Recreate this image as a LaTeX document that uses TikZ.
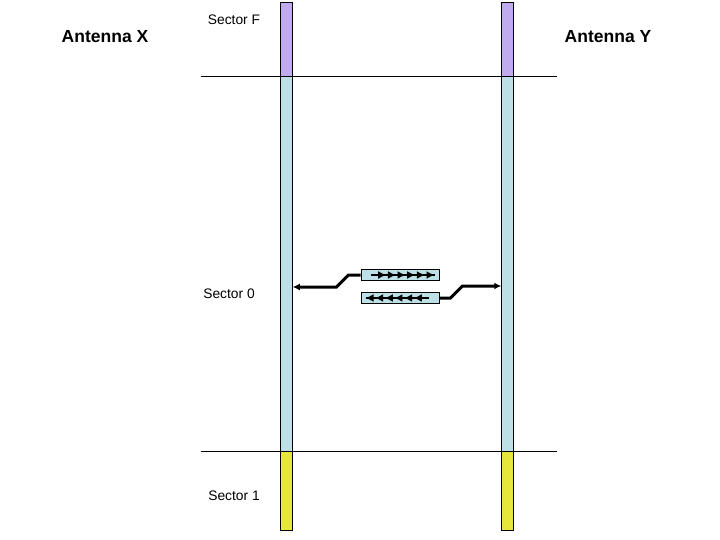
\documentclass[tikz,border=0pt]{standalone}
\usepackage{fontspec}
\setmainfont{Liberation Sans}
\usetikzlibrary{arrows.meta,decorations.markings}
\definecolor{sectorF}{HTML}{C0AAF0}
\definecolor{sectorZ}{HTML}{BCE0E6}
\definecolor{sectorO}{HTML}{E6E63C}
\begin{document}
\begin{tikzpicture}[x=1pt,y=-1pt,
  bar/.style={draw,line width=1pt,inner sep=0,minimum width=11.5pt},
  pkt/.style={draw,line width=0.9pt,fill=sectorZ,inner sep=0,minimum width=78pt,minimum height=11.5pt},
  conn/.style={line width=3pt,-{Latex[length=7pt,width=7pt]}},
  antlabel/.style={font=\fontsize{17.5}{20}\selectfont\bfseries},
  seclabel/.style={font=\fontsize{13.8}{16}\selectfont},
  flow/.style={line width=1.8pt,postaction={decorate},decoration={markings,
    mark=between positions 0.24 and 1 step 0.152 with {\arrow{Latex[length=8pt,width=8pt]}}}}]
\useasboundingbox (0,0) rectangle (720,540);
% sector borders
\draw[line width=1pt] (201,77) -- (557,77);
\draw[line width=1pt] (201,451) -- (557,451);
% antenna bars
\foreach \ant/\xpos in {x/286.5,y/507.5}
{ \node[bar,fill=sectorF,minimum height=74pt] (\ant F) at (\xpos,40) {};
  \node[bar,fill=sectorZ,minimum height=374pt] (\ant Z) at (\xpos,264) {};
  \node[bar,fill=sectorO,minimum height=79pt] (\ant O) at (\xpos,490.5) {};}
% labels
\node[antlabel] (antX) at (105,37) {Antenna X};
\node[antlabel] (antY) at (608,37) {Antenna Y};
\node[seclabel] (secF) at (234,20) {Sector F};
\node[seclabel] (secZ) at (229,294) {Sector 0};
\node[seclabel] (secO) at (234,496) {Sector 1};
% packets
\node[pkt] (pktR) at (400,275) {};
\node[pkt] (pktL) at (400,298) {};
\draw[flow] (371,275) coordinate (fr0) -- (434.5,275) coordinate (fr1);
\draw[flow] (429,298) coordinate (fl0) -- (365.5,298) coordinate (fl1);
% connectors
\draw[conn] (pktR.west) -- ++(-12,0) -- ++(-12,12) coordinate (cx) -- (cx -| xZ.east);
\draw[conn] (pktL.east) -- ++(11,0) -- ++(12,-12) coordinate (cy) -- (cy -| yZ.west);
\end{tikzpicture}
\end{document}
